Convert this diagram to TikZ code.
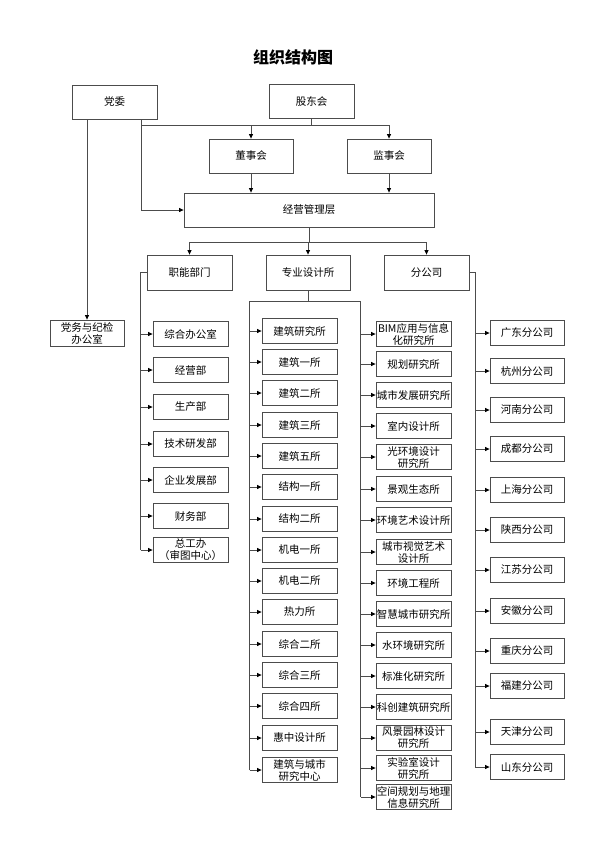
\documentclass[tikz,border=0pt]{standalone}
\usepackage{fontspec}
\setmainfont{Noto Sans CJK SC}
\usepackage{tikz}
\usetikzlibrary{positioning,arrows.meta}

\begin{document}
\begin{tikzpicture}[x=1pt, y=-1pt, font=\fontsize{10.5}{12}\selectfont,
  box/.style={draw=black!70, line width=0.8pt, fill=white, align=center, inner xsep=0.5pt, inner ysep=1pt, minimum width=75pt, minimum height=25pt},
  topbox/.style={box, minimum width=85pt, minimum height=34pt},
  link/.style={draw=black!70, line width=0.8pt},
  arr/.style={link, -{Triangle[length=4.5pt,width=4pt,color=black]}}]
\useasboundingbox (0,0) rectangle (595,841);
\node[font=\fontsize{16}{18}\selectfont\bfseries] (title) at (293,57) {组织结构图};
% top level
\node[topbox] (dw) at (114.5,102) {党委};
\node[topbox] (gd) at (311.5,101) {股东会};
\node[topbox, minimum width=84pt] (dsh) at (251,156) {董事会};
\node[topbox, minimum width=84pt] (jsh) at (389,156) {监事会};
\node[topbox, minimum width=250pt] (jy) at (309,210) {经营管理层};
\node[topbox, minimum height=35pt] (zn) at (189.5,272.5) {职能部门};
\node[topbox, minimum width=84pt, minimum height=35pt] (zy) at (308,272.5) {专业设计所};
\node[topbox, minimum height=35pt] (fgs) at (426.5,272.5) {分公司};
\node[box, minimum width=74pt, minimum height=26pt] (dj) at (87,333) {党务与纪检\\办公室};
\path (gd.south) ++(0,7) coordinate (bus);
\path (dw.south) ++(26.5,0) coordinate (dwr);
\draw[link] (gd.south) -- (bus) -- (dwr |- bus);
\draw[arr] (bus) -| (dsh.north);
\draw[arr] (bus) -| (jsh.north);
\draw[arr] (dwr) |- (jy.west);
\draw[arr] (dw.south -| dj.north) -- (dj.north);
\draw[arr] (dsh.south) -- (dsh.south |- jy.north);
\draw[arr] (jsh.south) -- (jsh.south |- jy.north);
\path (jy.south) ++(0,15) coordinate (bus2);
\draw[link] (jy.south) -- (bus2);
\draw[arr] (bus2) -| (zn.north);
\draw[arr] (bus2) -| (zy.north);
\draw[arr] (bus2) -| (fgs.north);
% 职能部门
\foreach \t/\y [count=\i] in {综合办公室/334, 经营部/370, 生产部/407, 技术研发部/444,
    企业发展部/480, 财务部/516, 总工办\\（审图中心）/550}
  \node[box] (z\i) at (190.5,\y) {\t};
\path (zn.west) ++(-6,0) coordinate (znl);
\draw[link] (zn.west) -- (znl) -- (znl |- z7.west);
\foreach \i in {1,...,7}
  \draw[arr] (znl |- z\i.west) -- (z\i.west);
% 专业设计所
\foreach \t/\y [count=\i] in {建筑研究所/331, 建筑一所/362, 建筑二所/393, 建筑三所/425,
    建筑五所/456, 结构一所/487, 结构二所/519, 机电一所/550, 机电二所/581, 热力所/612,
    综合二所/644, 综合三所/675, 综合四所/706, 惠中设计所/738, 建筑与城市\\研究中心/770}
  \node[box] (s\i) at (299.5,\y) {\t};
\foreach \t/\y [count=\i] in {BIM应用与信息\\化研究所/334, 规划研究所/364, 城市发展研究所/395,
    室内设计所/426, 光环境设计\\研究所/457, 景观生态所/489, 环境艺术设计所/520,
    城市视觉艺术\\设计所/552, 环境工程所/583, 智慧城市研究所/614, 水环境研究所/645,
    标准化研究所/676, 科创建筑研究所/707, 风景园林设计\\研究所/738, 实验室设计\\研究所/768,
    空间规划与地理\\信息研究所/797}
  \node[box] (t\i) at (413.5,\y) {\t};
\path (zy.south) ++(0,11) coordinate (zyb);
\path (s1.west) ++(-12,0) coordinate (zyl);
\path (t1.west) ++(-15,0) coordinate (zyr);
\draw[link] (zy.south) -- (zyb);
\draw[link] (zyl |- s15.west) -- (zyl |- zyb) -- (zyr |- zyb) -- (zyr |- t16.west);
\foreach \i in {1,...,15}
  \draw[arr] (zyl |- s\i.west) -- (s\i.west);
\foreach \i in {1,...,16}
  \draw[arr] (zyr |- t\i.west) -- (t\i.west);
% 分公司
\foreach \t/\y [count=\i] in {广东/333, 杭州/371, 河南/410, 成都/449, 上海/490, 陕西/530,
    江苏/570, 安徽/611, 重庆/651, 福建/686, 天津/732, 山东/767}
  \node[box, minimum width=74pt] (f\i) at (527,\y) {\t 分公司};
\path (fgs.east) ++(6,0) coordinate (fgr);
\draw[link] (fgs.east) -- (fgr) -- (fgr |- f12.west);
\foreach \i in {1,...,12}
  \draw[arr] (fgr |- f\i.west) -- (f\i.west);
\end{tikzpicture}
\end{document}
